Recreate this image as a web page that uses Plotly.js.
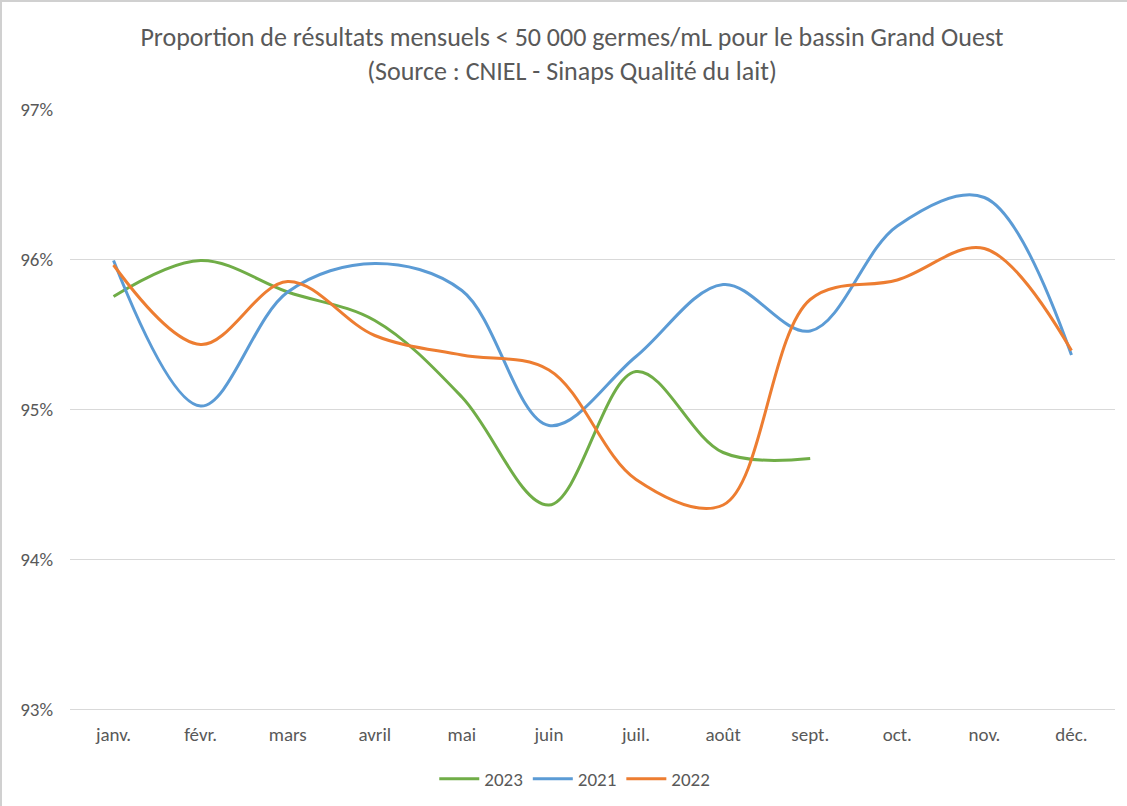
<!DOCTYPE html>
<html>
<head>
<meta charset="utf-8">
<script src="https://cdn.plot.ly/plotly-3.0.1.min.js"></script>
<style>
html,body{margin:0;padding:0;background:#fff;}
#chart{width:1127px;height:806px;}
#frame{position:absolute;left:0;top:0;width:1125px;height:804px;border-left:2px solid #d0d0d0;border-top:2px solid #d0d0d0;pointer-events:none;}
</style>
</head>
<body>
<div id="chart"></div>
<div id="frame"></div>
<script>
const months = ['janv.','févr.','mars','avril','mai','juin','juil.','août','sept.','oct.','nov.','déc.'];
const values2023 = [95.75, 95.99, 95.78, 95.59, 95.08, 94.36, 95.25, 94.71, 94.67];
const values2021 = [95.99, 95.02, 95.78, 95.97, 95.79, 94.89, 95.35, 95.83, 95.52, 96.22, 96.41, 95.36];
const values2022 = [95.96, 95.43, 95.85, 95.49, 95.36, 95.26, 94.53, 94.36, 95.73, 95.86, 96.07, 95.39];
const yTicks = [93, 94, 95, 96, 97];

const FONT = "Carlito, 'Liberation Sans Narrow', 'Open Sans', sans-serif";
const GREY = '#595959';

function series(name, vals, color) {
  return {
    type: 'scatter', mode: 'lines', name: name,
    x: months.slice(0, vals.length), y: vals,
    line: {color: color, width: 3, shape: 'spline', smoothing: 1},
    hoverinfo: 'x+y'
  };
}

const data = [
  series('2023', values2023, '#70AD47'),
  series('2021', values2021, '#5B9BD5'),
  series('2022', values2022, '#ED7D31')
];

const layout = {
  width: 1127, height: 806,
  margin: {l: 70, r: 12, t: 109, b: 97},
  paper_bgcolor: '#fff', plot_bgcolor: '#fff',
  font: {family: FONT, color: GREY, size: 19},
  title: {
    text: 'Proportion de résultats mensuels &lt; 50 000 germes/mL pour le bassin Grand Ouest<br>(Source : CNIEL - Sinaps Qualité du lait)',
    font: {family: FONT, size: 26, color: GREY},
    xref: 'container', x: 0.5075, xanchor: 'center',
    yref: 'container', y: 1 - 46/806, yanchor: 'top'
  },
  xaxis: {
    type: 'category', categoryorder: 'array', categoryarray: months,
    range: [-0.5, 11.5],
    showgrid: false, showline: true, linecolor: '#d9d9d9', linewidth: 1,
    ticks: '', tickfont: {family: FONT, size: 19, color: GREY},
    ticklabelstandoff: 8, fixedrange: true
  },
  yaxis: {
    range: [93, 97], tickvals: yTicks, ticktext: yTicks.map(v => v + '%'),
    showgrid: true, gridcolor: '#d9d9d9', gridwidth: 1,
    zeroline: false, showline: false, ticks: '',
    tickfont: {family: FONT, size: 19, color: GREY},
    ticklabelstandoff: 16, fixedrange: true
  },
  showlegend: true,
  legend: {
    orientation: 'h', xref: 'container', yref: 'container',
    x: 0.51, xanchor: 'center', y: 1 - 779/806, yanchor: 'middle',
    font: {family: FONT, size: 19, color: GREY},
    itemwidth: 40, tracegroupgap: 0
  }
};

Plotly.newPlot('chart', data, layout, {displayModeBar: false, staticPlot: true});
</script>
</body>
</html>
